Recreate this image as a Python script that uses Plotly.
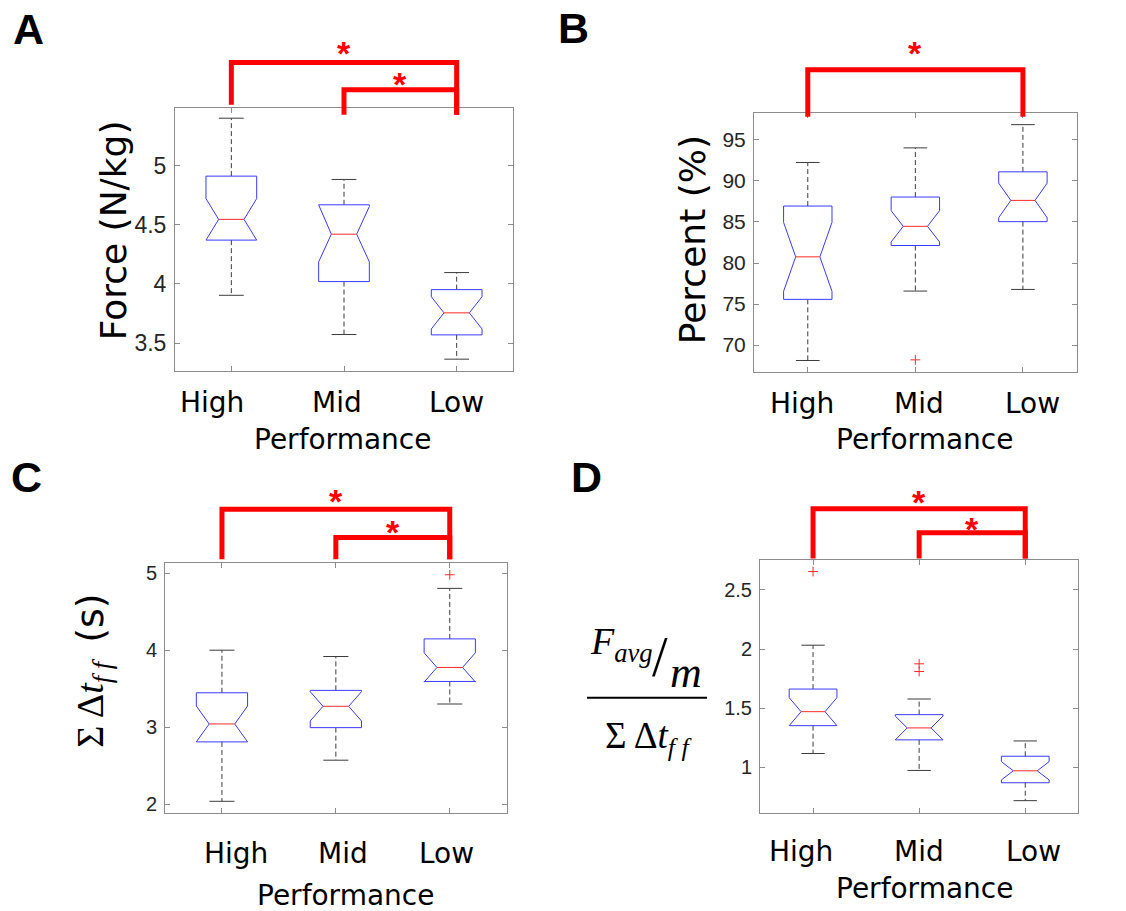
"""Notched box plots of take-off metrics by performance group (panels A-D)."""

from __future__ import annotations

import plotly.graph_objects as go

FIG_W = 1126
FIG_H = 911

CATEGORIES = ["High", "Mid", "Low"]

# A: average force (N/kg)
FORCE_LO = [3.904, 3.573, 3.365]
FORCE_Q1 = [4.370, 4.020, 3.570]
FORCE_MED = [4.545, 4.420, 3.756]
FORCE_Q3 = [4.910, 4.668, 3.952]
FORCE_HI = [5.399, 4.882, 4.096]
FORCE_NOTCH = [0.175, 0.234, 0.136]
FORCE_OUT = [[], [], []]
FORCE_TICKS = [3.5, 4, 4.5, 5]
FORCE_TICK_TEXT = ["3.5", "4", "4.5", "5"]

# B: percent (%)
PCT_LO = [68.12, 76.58, 76.78]
PCT_Q1 = [75.57, 82.13, 85.04]
PCT_MED = [80.75, 84.47, 87.63]
PCT_Q3 = [86.94, 88.04, 91.11]
PCT_HI = [92.25, 94.03, 96.86]
PCT_NOTCH = [4.2, 1.9, 2.1]
PCT_OUT = [[], [68.2], []]
PCT_TICKS = [70, 75, 80, 85, 90, 95]
PCT_TICK_TEXT = ["70", "75", "80", "85", "90", "95"]

# C: summed flight time (s)
DT_LO = [2.040, 2.574, 3.304]
DT_Q1 = [2.812, 2.997, 3.597]
DT_MED = [3.045, 3.274, 3.779]
DT_Q3 = [3.450, 3.481, 4.150]
DT_HI = [4.003, 3.921, 4.806]
DT_NOTCH = [0.233, 0.19, 0.19]
DT_OUT = [[], [], [4.983]]
DT_TICKS = [2, 3, 4, 5]
DT_TICK_TEXT = ["2", "3", "4", "5"]

# D: force / flight time ratio
RATIO_LO = [1.118, 0.975, 0.720]
RATIO_Q1 = [1.353, 1.233, 0.871]
RATIO_MED = [1.471, 1.334, 0.972]
RATIO_Q3 = [1.662, 1.446, 1.095]
RATIO_HI = [2.032, 1.578, 1.224]
RATIO_NOTCH = [0.118, 0.10, 0.077]
RATIO_OUT = [[2.654], [1.875, 1.810], []]
RATIO_TICKS = [1, 1.5, 2, 2.5]
RATIO_TICK_TEXT = ["1", "1.5", "2", "2.5"]

BOX_COLOR = "#3a3aff"
MEDIAN_COLOR = "#ff2a2a"
WHISKER_COLOR = "#3c3c3c"
SIG_COLOR = "#ff0000"
FRAME_COLOR = "#8c8c8c"
TICK_FONT = "Liberation Sans, Arial, sans-serif"
LABEL_FONT = "DejaVu Sans, Verdana, sans-serif"
MATH_FONT = "Liberation Serif, Times New Roman, serif"

HALF_W = 0.225
CAP_HALF = 0.11
NOTCH_HALF = 0.5 * HALF_W


def px(x: float) -> float:
    return x / FIG_W


def py(y: float) -> float:
    return 1 - y / FIG_H


def note(text: str, x: float, y: float, **kw) -> dict:
    """Centered annotation, paper coordinates unless overridden."""
    base = dict(text=text, x=x, y=y, xref="paper", yref="paper", showarrow=False,
                xanchor="center", yanchor="middle")
    base.update(kw)
    return base


PANELS = [
    dict(
        letter="A", letter_xy=(28, 28), frame=(175, 107, 513, 371),
        stats=(FORCE_LO, FORCE_Q1, FORCE_MED, FORCE_Q3, FORCE_HI, FORCE_NOTCH, FORCE_OUT),
        yrange=[3.267, 5.488], ticks=FORCE_TICKS, tick_text=FORCE_TICK_TEXT, tick_size=23,
        cat_y=403, cat_shift=[-19, -7, 0], perf_xy=(342, 440),
        brackets=[(0, 2, 1.172, 1.011, 0.973, 1.235), (1, 2, 1.068, 0.973, 0.973, 1.117)],
    ),
    dict(
        letter="B", letter_xy=(573, 27), frame=(754, 112.7, 1076.7, 372.7),
        stats=(PCT_LO, PCT_Q1, PCT_MED, PCT_Q3, PCT_HI, PCT_NOTCH, PCT_OUT),
        yrange=[66.66, 98.24], ticks=PCT_TICKS, tick_text=PCT_TICK_TEXT, tick_size=21,
        cat_y=404, cat_shift=[-6, 4, 10], perf_xy=(924, 440),
        brackets=[(0, 2, 1.168, 0.987, 0.987, 1.26)],
    ),
    dict(
        letter="C", letter_xy=(26, 478), frame=(165, 564.3, 506.7, 815),
        stats=(DT_LO, DT_Q1, DT_MED, DT_Q3, DT_HI, DT_NOTCH, DT_OUT),
        yrange=[1.884, 5.13], ticks=DT_TICKS, tick_text=DT_TICK_TEXT, tick_size=20,
        cat_y=855, cat_shift=[14, 7, -3], perf_xy=(345, 897),
        brackets=[(0, 2, 1.217, 1.017, 1.017, 1.276), (1, 2, 1.104, 1.017, 1.017, 1.153)],
    ),
    dict(
        letter="D", letter_xy=(586, 478), frame=(760, 561, 1078.3, 814.3),
        stats=(RATIO_LO, RATIO_Q1, RATIO_MED, RATIO_Q3, RATIO_HI, RATIO_NOTCH, RATIO_OUT),
        yrange=[0.619, 2.75], ticks=RATIO_TICKS, tick_text=RATIO_TICK_TEXT, tick_size=20,
        cat_y=853, cat_shift=[-12, 0, 8], perf_xy=(924, 890),
        brackets=[(0, 2, 1.204, 1.007, 1.007, 1.26), (1, 2, 1.109, 1.007, 1.007, 1.151)],
    ),
]


def box_traces(stats, xa: str, ya: str) -> list[go.Scatter]:
    """Notched boxes, dashed whiskers, caps, medians and outliers as scatter lines."""
    lo, q1, med, q3, hi, notch, outliers = stats
    bx, by, wx, wy, cx, cy, mx, my, ox, oy = ([] for _ in range(10))
    for i, _ in enumerate(CATEGORIES):
        p = i + 1
        ln, un = med[i] - notch[i], med[i] + notch[i]
        bx += [p - HALF_W, p - HALF_W, p - NOTCH_HALF, p - HALF_W, p - HALF_W,
               p + HALF_W, p + HALF_W, p + NOTCH_HALF, p + HALF_W, p + HALF_W, p - HALF_W, None]
        by += [q1[i], ln, med[i], un, q3[i], q3[i], un, med[i], ln, q1[i], q1[i], None]
        wx += [p, p, None, p, p, None]
        wy += [q3[i], hi[i], None, q1[i], lo[i], None]
        cx += [p - CAP_HALF, p + CAP_HALF, None, p - CAP_HALF, p + CAP_HALF, None]
        cy += [hi[i], hi[i], None, lo[i], lo[i], None]
        mx += [p - NOTCH_HALF, p + NOTCH_HALF, None]
        my += [med[i], med[i], None]
        for v in outliers[i]:
            ox.append(p)
            oy.append(v)
    common = dict(xaxis=xa, yaxis=ya, showlegend=False, hoverinfo="skip")
    return [
        go.Scatter(x=wx, y=wy, mode="lines",
                   line=dict(color=WHISKER_COLOR, width=1, dash="5px,3px"), **common),
        go.Scatter(x=cx, y=cy, mode="lines", line=dict(color=WHISKER_COLOR, width=1), **common),
        go.Scatter(x=bx, y=by, mode="lines", line=dict(color=BOX_COLOR, width=1), **common),
        go.Scatter(x=mx, y=my, mode="lines", line=dict(color=MEDIAN_COLOR, width=1), **common),
        go.Scatter(x=ox, y=oy, mode="markers",
                   marker=dict(symbol="cross-thin", size=7, line=dict(color=MEDIAN_COLOR, width=1)),
                   **common),
    ]


fig = go.Figure()
annotations = []
shapes = []
layout = {}

for k, panel in enumerate(PANELS):
    n = "" if k == 0 else str(k + 1)
    xa, ya = f"x{n}", f"y{n}"
    x0, y0, x1, y1 = panel["frame"]
    for tr in box_traces(panel["stats"], xa, ya):
        fig.add_trace(tr)

    axis_common = dict(showline=True, linecolor=FRAME_COLOR, linewidth=1, mirror="ticks",
                       ticks="inside", ticklen=5, tickcolor=FRAME_COLOR, showgrid=False,
                       zeroline=False)
    layout[f"xaxis{n}"] = dict(domain=[px(x0), px(x1)], range=[0.5, 3.5], anchor=ya,
                               tickvals=[i + 1 for i in range(len(CATEGORIES))],
                               showticklabels=False, **axis_common)
    layout[f"yaxis{n}"] = dict(domain=[py(y1), py(y0)], range=panel["yrange"], anchor=xa,
                               tickvals=panel["ticks"], ticktext=panel["tick_text"],
                               tickfont=dict(family=TICK_FONT, size=panel["tick_size"],
                                             color="#262626"),
                               ticklabelstandoff=3, **axis_common)

    lx, ly = panel["letter_xy"]
    annotations.append(note(f"<b>{panel['letter']}</b>", px(lx), py(ly),
                            font=dict(family=TICK_FONT, size=43, color="black")))
    for i, cat in enumerate(CATEGORIES):
        annotations.append(note(cat, i + 1, py(panel["cat_y"]), xref=xa,
                                xshift=panel["cat_shift"][i],
                                font=dict(family=LABEL_FONT, size=28, color="black")))
    fx, fy = panel["perf_xy"]
    annotations.append(note("Performance", px(fx), py(fy),
                            font=dict(family=LABEL_FONT, size=28, color="black")))

    # significance brackets
    for left, right, top, end_l, end_r, star_y in panel["brackets"]:
        xl, xr = left + 1, right + 1
        shapes.append(dict(type="path", xref=xa, yref=f"{ya} domain",
                           path=f"M {xl} {end_l} L {xl} {top} L {xr} {top} L {xr} {end_r}",
                           line=dict(color=SIG_COLOR, width=5)))
        annotations.append(note("<b>*</b>", (xl + xr) / 2, star_y, xref=xa,
                                yref=f"{ya} domain", yshift=-7,
                                font=dict(family=TICK_FONT, size=34, color=SIG_COLOR)))

# y-axis labels
annotations += [
    note("Force (N/kg)", px(113), py(230), textangle=-90,
         font=dict(family=LABEL_FONT, size=36, color="black")),
    note("Percent (%)", px(692), py(240), textangle=-90,
         font=dict(family=LABEL_FONT, size=36, color="black")),
    note("Σ Δ<i>t</i><sub><i>f f</i></sub>  "
         f"<span style='font-family:{LABEL_FONT}'>(s)</span>",
         px(93), py(672), textangle=-90,
         font=dict(family=MATH_FONT, size=38, color="black")),
    note("<i>F</i><sub><i>avg</i></sub>", px(588), py(645), xanchor="left",
         font=dict(family=MATH_FONT, size=38, color="black")),
    note("/", px(660), py(658), font=dict(family=MATH_FONT, size=56, color="black")),
    note("<i>m</i>", px(686), py(674), font=dict(family=MATH_FONT, size=44, color="black")),
    note("Σ Δ<i>t</i><sub><i>f f</i></sub>", px(648), py(740),
         font=dict(family=MATH_FONT, size=37, color="black")),
]

shapes.append(dict(type="line", xref="paper", yref="paper", x0=px(587), x1=px(707),
                   y0=py(699), y1=py(699), line=dict(color="black", width=2)))

fig.update_layout(
    width=FIG_W,
    height=FIG_H,
    margin=dict(l=0, r=0, t=0, b=0),
    paper_bgcolor="white",
    plot_bgcolor="white",
    annotations=annotations,
    shapes=shapes,
    **layout,
)

fig.write_html("out.html", config={"displayModeBar": False},
               post_script="document.body.style.margin='0px';")
